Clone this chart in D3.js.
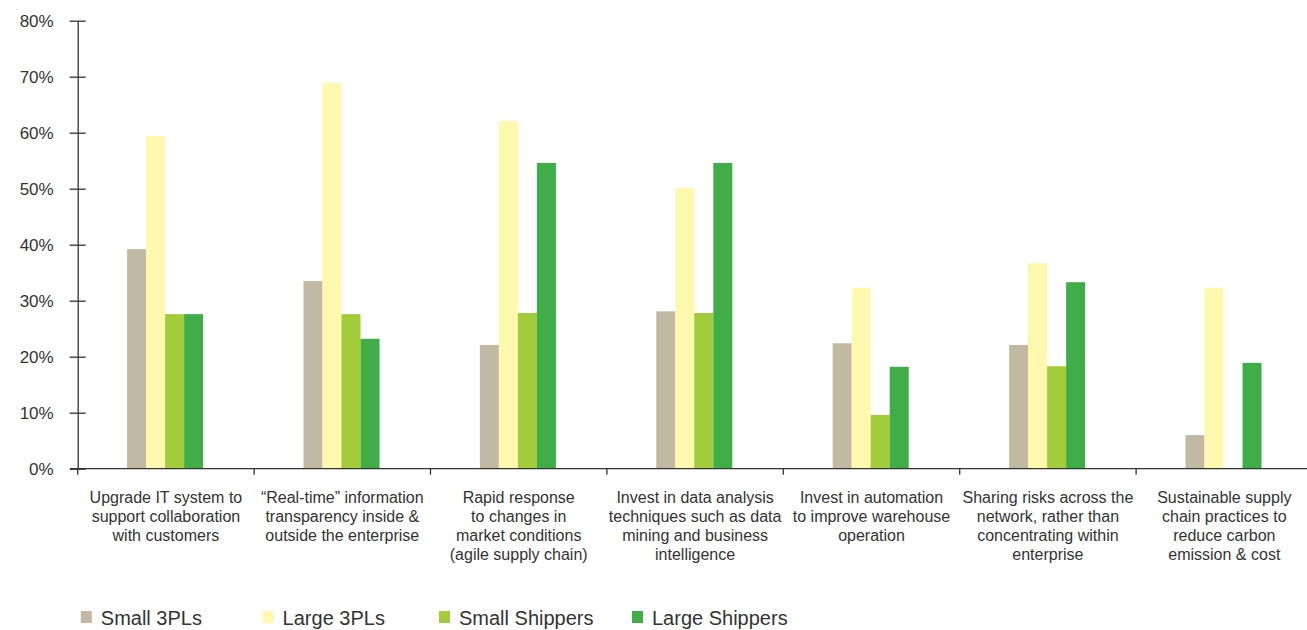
<!DOCTYPE html>
<html>
<head>
<meta charset="utf-8">
<script src="https://cdn.jsdelivr.net/npm/d3@7"></script>
<style>
  html, body { margin: 0; padding: 0; background: #fff; }
  svg { display: block; font-family: "Liberation Sans", Arial, sans-serif; }
</style>
</head>
<body>
<svg id="chart" width="1307" height="630"></svg>
<script>
// Categories, each given as its wrapped label lines
const categories = [
  ["Upgrade IT system to", "support collaboration", "with customers"],
  ["\u201CReal-time\u201D information", "transparency inside &", "outside the enterprise"],
  ["Rapid response", "to changes in", "market conditions", "(agile supply chain)"],
  ["Invest in data analysis", "techniques such as data", "mining and business", "intelligence"],
  ["Invest in automation", "to improve warehouse", "operation"],
  ["Sharing risks across the", "network, rather than", "concentrating within", "enterprise"],
  ["Sustainable supply", "chain practices to", "reduce carbon", "emission & cost"]
];

const seriesNames = ["Small 3PLs", "Large 3PLs", "Small Shippers", "Large Shippers"];
const seriesColors = ["#c2b9a3", "#fff8ae", "#a2cc3a", "#41ad49"];

// Share of respondents per category (fractions)
const small3PLs     = [0.392, 0.335, 0.221, 0.281, 0.224, 0.221, 0.060];
const large3PLs     = [0.594, 0.689, 0.621, 0.501, 0.323, 0.367, 0.323];
const smallShippers = [0.276, 0.276, 0.278, 0.278, 0.096, 0.183, 0];
const largeShippers = [0.276, 0.232, 0.546, 0.546, 0.182, 0.333, 0.189];

const yTicks = [0, 0.1, 0.2, 0.3, 0.4, 0.5, 0.6, 0.7, 0.8];

const seriesValues = [small3PLs, large3PLs, smallShippers, largeShippers];

const svg = d3.select("#chart");
const axisColor = "#333";
const textColor = "#333";

const x0 = d3.scaleBand()
  .domain(d3.range(categories.length))
  .range([77.7, 1312.5])
  .padding(0);

const groupW = x0.bandwidth() * 0.431;
const x1 = d3.scaleBand()
  .domain(d3.range(seriesNames.length))
  .range([(x0.bandwidth() - groupW) / 2 - 0.8, (x0.bandwidth() + groupW) / 2 - 0.8])
  .padding(0);

const y = d3.scaleLinear().domain([0, 0.8]).range([468.7, 20.7]);

// Bars
const groups = svg.append("g")
  .selectAll("g")
  .data(d3.range(categories.length))
  .join("g")
  .attr("transform", i => `translate(${x0(i)},0)`);

groups.selectAll("rect")
  .data(i => seriesValues.map((vals, s) => ({ s, v: vals[i] })))
  .join("rect")
  .attr("x", d => x1(d.s))
  .attr("width", x1.bandwidth())
  .attr("y", d => y(d.v))
  .attr("height", d => y(0) - y(d.v))
  .attr("fill", d => seriesColors[d.s]);

// Y axis
const yAxis = svg.append("g")
  .attr("transform", `translate(${x0.range()[0]},0)`)
  .call(d3.axisLeft(y).tickValues(yTicks).tickFormat(d3.format(".0%")).tickSizeInner(8).tickSizeOuter(0));
yAxis.select(".domain").attr("stroke", axisColor).attr("stroke-width", 1.3);
yAxis.selectAll(".tick line").attr("stroke", axisColor).attr("stroke-width", 1.3).attr("x2", 8).attr("x1", -8);
yAxis.selectAll(".tick text")
  .attr("x", -24)
  .attr("fill", textColor)
  .attr("font-size", 17)
  .attr("font-family", "Liberation Sans, Arial, sans-serif");

// X axis baseline with ticks at band edges
const xAxisG = svg.append("g");
xAxisG.append("line")
  .attr("x1", 70).attr("x2", 1307)
  .attr("y1", y(0)).attr("y2", y(0))
  .attr("stroke", axisColor).attr("stroke-width", 1.3);
xAxisG.selectAll("line.tick")
  .data(d3.range(categories.length))
  .join("line")
  .attr("class", "tick")
  .attr("x1", i => x0(i)).attr("x2", i => x0(i))
  .attr("y1", y(0)).attr("y2", y(0) + 6)
  .attr("stroke", axisColor).attr("stroke-width", 1.3);

// Category labels
const labels = svg.append("g")
  .selectAll("text")
  .data(categories)
  .join("text")
  .attr("text-anchor", "middle")
  .attr("font-size", 16)
  .attr("fill", textColor)
  .attr("transform", (d, i) => `translate(${x0(i) + x0.bandwidth() / 2},503)`);
labels.selectAll("tspan")
  .data(d => d)
  .join("tspan")
  .attr("x", 0)
  .attr("y", (d, k) => k * 19)
  .text(d => d);

// Legend
const legendX = [80.8, 262.6, 439, 632];
const legend = svg.append("g")
  .selectAll("g")
  .data(seriesNames)
  .join("g")
  .attr("transform", (d, i) => `translate(${legendX[i]},0)`);
legend.append("rect")
  .attr("x", 0).attr("y", 611)
  .attr("width", 11).attr("height", 12)
  .attr("fill", (d, i) => seriesColors[i]);
legend.append("text")
  .attr("x", 20).attr("y", 625)
  .attr("font-size", 20)
  .attr("fill", textColor)
  .text(d => d);
</script>
</body>
</html>
